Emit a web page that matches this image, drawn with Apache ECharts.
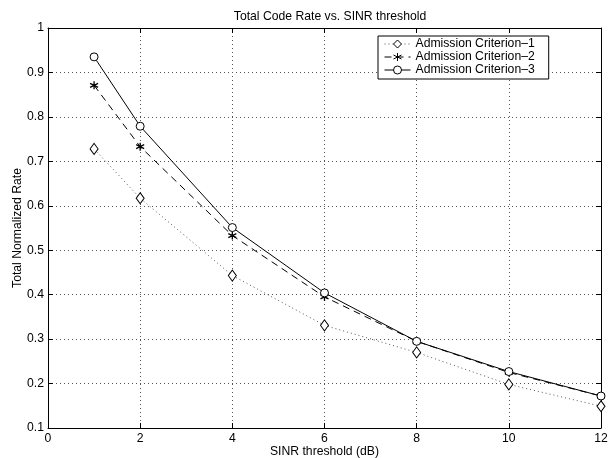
<!DOCTYPE html>
<html>
<head>
<meta charset="utf-8">
<script src="https://cdn.jsdelivr.net/npm/echarts@6/dist/echarts.min.js"></script>
<style>
  html, body { margin: 0; padding: 0; background: #fff; }
  #chart { width: 611px; height: 458px; }
</style>
</head>
<body>
<div id="chart"></div>
<script>
  // SINR threshold (dB)
  var sinr = [1, 2, 4, 6, 8, 10, 12];
  var crit1 = [0.728, 0.617, 0.443, 0.331, 0.270, 0.198, 0.149];
  var crit2 = [0.871, 0.733, 0.533, 0.395, 0.295, 0.225, 0.172];
  var crit3 = [0.935, 0.779, 0.551, 0.404, 0.295, 0.227, 0.172];
  var names = ['Admission Criterion\u20131', 'Admission Criterion\u20132', 'Admission Criterion\u20133'];

  function pairs(ys) {
    return sinr.map(function (x, i) { return [x, ys[i]]; });
  }

  var font = 'Liberation Sans, Arial, Helvetica, sans-serif';
  var fs = 12.2;
  var star = 'path://M0,-5L0,5M-4.33,-2.5L4.33,2.5M-4.33,2.5L4.33,-2.5';

  var chart = echarts.init(document.getElementById('chart'));
  var gridLine = { show: true, lineStyle: { color: '#555', type: [1, 3], width: 1 } };
  var axisLine = { show: true, onZero: false, lineStyle: { color: '#000', width: 1 } };
  var tick = { show: true, inside: true, length: 5, lineStyle: { color: '#000' } };

  chart.setOption({
    animation: false,
    title: {
      text: 'Total Code Rate vs. SINR threshold',
      left: 325, top: 6, textAlign: 'center',
      textStyle: { fontFamily: font, fontSize: fs, fontWeight: 'normal', color: '#000' }
    },
    grid: { left: 48, right: 10, top: 28, bottom: 30, containLabel: false, outerBoundsMode: 'none' },
    legend: {
      orient: 'vertical',
      left: 378, top: 36,
      padding: [2, 14, 3, 6],
      itemGap: 1,
      itemWidth: 26, itemHeight: 10,
      borderColor: '#000', borderWidth: 1,
      backgroundColor: '#fff',
      lineStyle: { width: 1 },
      itemStyle: { borderWidth: 1 },
      textStyle: { fontFamily: font, fontSize: fs, lineHeight: 12, color: '#000' },
      data: names
    },
    xAxis: [{
      type: 'value', min: 0, max: 12, interval: 2,
      name: 'SINR threshold (dB)', nameLocation: 'middle', nameGap: 18, nameMoveOverlap: false,
      nameTextStyle: { fontFamily: font, fontSize: fs, color: '#000' },
      axisLine: axisLine, axisTick: tick, splitLine: gridLine,
      axisLabel: { fontFamily: font, fontSize: fs, color: '#000', margin: 5 }
    }, {
      type: 'value', min: 0, max: 12, interval: 2, position: 'top',
      axisLine: axisLine, axisTick: tick, splitLine: { show: false },
      axisLabel: { show: false }
    }],
    yAxis: [{
      type: 'value', min: 0.1, max: 1, interval: 0.1,
      name: 'Total Normalized Rate', nameLocation: 'middle', nameGap: 24, nameMoveOverlap: false,
      nameTextStyle: { fontFamily: font, fontSize: fs, color: '#000' },
      axisLine: axisLine, axisTick: tick, splitLine: gridLine,
      axisLabel: {
        fontFamily: font, fontSize: fs, color: '#000', margin: 4,
        formatter: function (v) { return String(Number(v.toFixed(1))); }
      }
    }, {
      type: 'value', min: 0.1, max: 1, interval: 0.1, position: 'right',
      axisLine: axisLine, axisTick: tick, splitLine: { show: false },
      axisLabel: { show: false }
    }],
    series: [{
      name: names[0], type: 'line', data: pairs(crit1),
      symbol: 'diamond', symbolSize: [8, 11], showAllSymbol: true,
      lineStyle: { color: '#555', width: 1, type: [1, 3] },
      itemStyle: { color: '#fff', borderColor: '#000', borderWidth: 1 }
    }, {
      name: names[1], type: 'line', data: pairs(crit2),
      symbol: star, symbolSize: 8, showAllSymbol: true,
      lineStyle: { color: '#000', width: 1, type: [7, 5] },
      itemStyle: { color: '#000', borderColor: '#000', borderWidth: 1.3 }
    }, {
      name: names[2], type: 'line', data: pairs(crit3),
      symbol: 'circle', symbolSize: 8, showAllSymbol: true,
      lineStyle: { color: '#000', width: 1 },
      itemStyle: { color: '#fff', borderColor: '#000', borderWidth: 1 }
    }]
  });
</script>
</body>
</html>
